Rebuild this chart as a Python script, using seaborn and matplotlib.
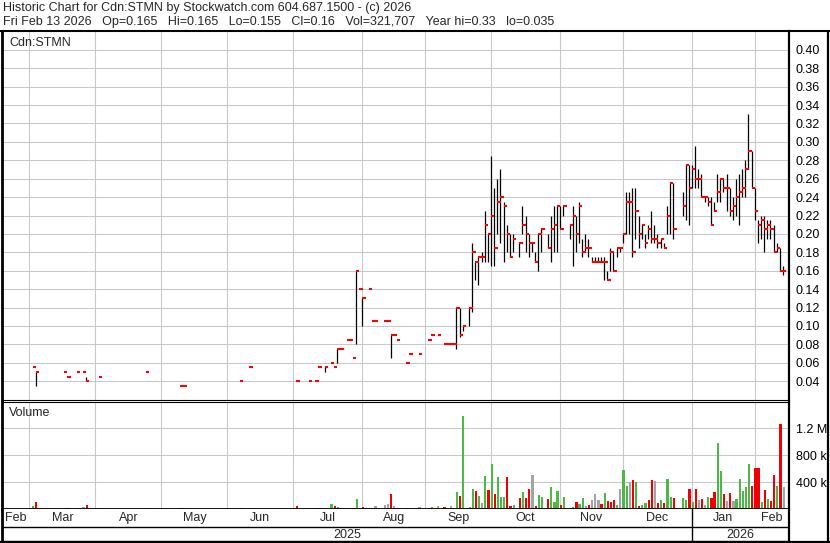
#%% imports

import numpy as np
import pandas as pd
import matplotlib
matplotlib.use("Agg")
import matplotlib.pyplot as plt
from matplotlib.ticker import FormatStrFormatter
import seaborn as sns

#%% data (one slot per trading day)

month_names = ["Feb", "Mar", "Apr", "May", "Jun", "Jul", "Aug",
               "Sep", "Oct", "Nov", "Dec", "Jan", "Feb"]
month_days = [9, 21, 21, 21, 21, 22, 20, 21, 22, 20, 22, 20, 10]
year_names = ["2025", "2026"]
year_first_month = [0, 11]

# high-low bars with a close tick
trade_slot = [10, 11, 20, 21, 24, 26, 27, 31, 46, 57, 58, 76, 79, 94, 98, 100, 101, 103, 105, 106,
              107, 108, 110, 111, 112, 113, 114, 115, 117, 118, 119, 122, 123, 124, 125, 126, 129, 130, 133,
              136, 137, 139, 141, 142, 143, 144, 145, 146, 147, 149, 150, 151, 152, 153, 154, 155,
              156, 157, 158, 159, 160, 161, 162, 163, 165, 166, 167, 168, 169, 170, 171, 172, 174, 175,
              176, 177, 178, 179,
              181, 182, 183, 184, 185, 186, 187, 188, 189, 190, 191, 192, 193, 194, 195, 196, 197, 198,
              199, 200, 201, 202, 203, 204, 205, 206, 207, 208, 209, 210, 211, 212, 213, 214,
              217, 218, 219, 220, 221, 222, 223, 224, 225, 226, 227, 228, 229, 230, 231, 232, 233, 234,
              235, 236, 237, 238, 239, 240, 241, 242, 243, 244, 245, 246, 247, 248, 249]
price_high = [.055, .05, .05, .045, .05, .05, .045, .045, .05, .035, .035, .04, .055, .04, .04, .04, .055, .057, .06, .055,
              .075, .075, .085, .085, .065, .16, .14, .13, .14, .105, .105, .105, .105, .09, .09, .085, .06, .07, .07,
              .085, .09, .09, .08, .08, .08, .08, .12, .12, .10, .12, .19, .17, .175, .18, .225, .20,
              .285, .25, .26, .27, .235, .21, .20, .20, .19, .23, .22, .20, .19, .18, .20, .205, .20, .22,
              .23, .23, .23, .23,
              .21, .23, .22, .235, .195, .20, .195, .175, .175, .175, .175, .175, .16, .185, .18, .185, .185, .20,
              .245, .245, .25, .25, .22, .21, .20, .21, .225, .21, .20, .195, .19, .23, .255, .255,
              .245, .275, .275, .275, .295, .27, .265, .24, .24, .24, .235, .265, .26, .26, .265, .25, .24, .26,
              .265, .27, .28, .33, .29, .25, .215, .22, .22, .215, .215, .21, .19, .185, .165]
price_low = [.055, .035, .05, .045, .05, .05, .04, .045, .05, .035, .035, .04, .055, .04, .04, .04, .055, .05, .06, .055,
             .06, .075, .085, .085, .065, .08, .14, .10, .14, .105, .105, .105, .105, .065, .09, .085, .06, .07, .07,
             .085, .09, .09, .08, .08, .08, .08, .075, .088, .095, .10, .115, .15, .145, .17, .17, .17,
             .165, .165, .20, .19, .17, .18, .175, .18, .175, .20, .18, .175, .18, .17, .16, .18, .185, .17,
             .18, .18, .205, .22,
             .195, .165, .18, .19, .175, .18, .175, .17, .17, .17, .17, .15, .15, .16, .16, .175, .18, .19,
             .20, .20, .175, .195, .185, .195, .185, .195, .19, .19, .185, .185, .185, .20, .20, .195,
             .22, .215, .21, .25, .25, .25, .24, .235, .23, .21, .225, .235, .235, .245, .225, .22, .215, .22,
             .21, .24, .24, .27, .25, .215, .19, .195, .18, .195, .195, .18, .18, .16, .155]
price_close = [.055, .05, .05, .045, .05, .05, .04, .045, .05, .035, .035, .04, .055, .04, .04, .04, .055, .055, .06, .055,
               .075, .075, .085, .085, .065, .16, .14, .13, .14, .105, .105, .105, .105, .09, .09, .085, .06, .07, .07,
               .085, .09, .09, .08, .08, .08, .08, .12, .09, .10, .12, .18, .17, .175, .175, .21, .20,
               .22, .185, .235, .24, .23, .20, .175, .195, .19, .21, .20, .19, .19, .17, .20, .205, .185, .205,
               .21, .23, .205, .23,
               .21, .22, .20, .23, .18, .185, .185, .17, .17, .17, .17, .17, .15, .18, .16, .185, .185, .20,
               .235, .235, .18, .225, .20, .21, .19, .205, .195, .195, .19, .195, .185, .22, .255, .205,
               .23, .275, .25, .27, .26, .26, .24, .24, .235, .21, .225, .245, .26, .25, .25, .225, .23, .24,
               .245, .25, .27, .29, .25, .225, .21, .215, .205, .21, .205, .18, .185, .16, .16]

# volume in thousands, G = up, R = down, N = unchanged
vol_slot = [10, 11, 20, 21, 24, 25, 26, 27, 31, 46, 57, 58, 76, 79, 94, 98, 100, 101, 103, 105,
            106, 107, 108, 110, 111, 112, 113, 114, 115, 117, 118, 119, 122, 123, 124, 125, 126, 129, 130, 133,
            136, 137, 139, 141, 142, 143, 144, 145, 146, 147, 149, 150, 151, 152, 153, 154, 155,
            156, 157, 158, 159, 160, 161, 162, 163, 165, 166, 167, 168, 169, 170, 171, 172, 174, 175,
            176, 177, 178, 179,
            181, 182, 183, 184, 185, 186, 187, 188, 189, 190, 191, 192, 193, 194, 195, 196, 197, 198,
            199, 200, 201, 202, 203, 204, 205, 206, 207, 208, 209, 210, 211, 212, 213, 214,
            217, 218, 219, 220, 221, 222, 223, 224, 225, 226, 227, 228, 229, 230, 231, 232, 233, 234,
            235, 236, 237, 238, 239, 240, 241, 242, 243, 244, 245, 246, 247, 248, 249]
vol_k = [50, 109, 20, 20, 20, 20, 35, 64, 20, 20, 20, 15, 20, 20, 50, 20, 20, 20, 20, 79,
         50, 35, 20, 20, 20, 20, 154, 20, 35, 20, 20, 50, 64, 79, 228, 50, 20, 20, 20, 35,
         10, 35, 50, 35, 15, 50, 15, 258, 198, 1388, 35, 302, 273, 198, 94, 496, 288,
         674, 218, 481, 183, 183, 481, 50, 64, 169, 258, 169, 302, 511, 50, 213, 183, 154, 332,
         109, 273, 64, 183,
         20, 35, 109, 79, 169, 50, 64, 139, 228, 139, 79, 243, 124, 109, 139, 64, 302, 585,
         347, 406, 436, 406, 50, 64, 94, 139, 436, 421, 94, 139, 94, 451, 183, 169,
         169, 139, 302, 109, 302, 139, 154, 64, 183, 169, 258, 986, 570, 228, 124, 243, 124, 154,
         451, 273, 332, 674, 347, 615, 615, 109, 288, 154, 124, 511, 347, 1269, 322]
vol_dir = list("GRNRGNNRGG" "RNGGRNNGNG" "RGNNGRGRRG" "RNNNRNRRGN"
               "NGNRNNNGRGGGRGNGR"
               "GRGGGRRGRGRRNRGGRGGGRG"
               "RGRGGNRNNNRGRRRGNG" "GNRGRGGRRNRGRGGR"
               "GGRGRNRNGRRGGRNRNG" "GGGGRRRGRGRRGRN")

header_1 = "Historic Chart for Cdn:STMN by Stockwatch.com 604.687.1500 - (c) 2026"
header_2 = ("Fri Feb 13 2026   Op=0.165   Hi=0.165   Lo=0.155   Cl=0.16   "
            "Vol=321,707   Year hi=0.33   lo=0.035")
symbol = "Cdn:STMN"

#%% layout

sns.set_theme(style="white")
plt.rcParams["font.family"] = ["Liberation Sans", "DejaVu Sans"]

W, H = 830, 543
fig = plt.figure(figsize=(W / 100, H / 100), dpi=100)
fig.patch.set_facecolor("white")


def px_box(x0, y0, x1, y1):
    # pixel box measured from the top-left corner -> figure fraction
    return [x0 / W, 1 - y1 / H, (x1 - x0) / W, (y1 - y0) / H]


ax_p = fig.add_axes(px_box(2, 31, 789, 400))
ax_v = fig.add_axes(px_box(2, 402, 789, 509))
ax_m = fig.add_axes(px_box(2, 509, 789, 542))

month_start = np.r_[0, np.cumsum(month_days)[:-1]]
n_slots = int(np.sum(month_days))
x_lo, x_hi = 0.25, n_slots + 0.9
grid_col = "#c8c8c8"

#%% price panel

ax_p.set_xlim(x_lo, x_hi)
ax_p.set_ylim(0.0196, 0.4204)
ax_p.set_xticks(month_start[1:])
ax_p.set_yticks(np.round(np.arange(0.04, 0.401, 0.02), 2))
ax_p.grid(True, color=grid_col, lw=0.75)
ax_p.set_axisbelow(True)

ax_p.vlines(trade_slot, price_low, price_high, color="black", lw=0.9)
ax_p.hlines(price_close, trade_slot, np.add(trade_slot, 1.1), color="red", lw=1.5)

ax_p.yaxis.tick_right()
ax_p.yaxis.set_major_formatter(FormatStrFormatter("%.2f"))
ax_p.tick_params(axis="x", length=0, labelbottom=False)
ax_p.tick_params(axis="y", length=0, pad=5, labelsize=9, labelcolor="black")

#%% volume panel

vol_df = pd.DataFrame({"slot": np.add(vol_slot, 0.2), "volume": vol_k, "move": vol_dir})
sns.barplot(data=vol_df, x="slot", y="volume", hue="move",
            palette={"G": "#4cb848", "R": "#f00000", "N": "#a4a4a4"},
            native_scale=True, dodge=False, width=0.7, errorbar=None,
            saturation=1, linewidth=0, legend=False, ax=ax_v)

ax_v.set_xlim(x_lo, x_hi)
ax_v.set_ylim(0, 1591)
ax_v.set_xticks(month_start[1:])
ax_v.set_yticks([400, 800, 1200])
ax_v.set_yticklabels(["400 k", "800 k", "1.2 M"])
ax_v.grid(True, color=grid_col, lw=0.75)
ax_v.set_axisbelow(True)
ax_v.set_xlabel("")
ax_v.set_ylabel("")
ax_v.yaxis.tick_right()
ax_v.tick_params(axis="x", length=0, labelbottom=False)
ax_v.tick_params(axis="y", length=0, pad=5, labelsize=9, labelcolor="black")

#%% month / year strip

ax_m.set_xlim(x_lo, x_hi)
ax_m.set_ylim(0, 33)
ax_m.set_xticks([])
ax_m.set_yticks([])
ax_m.axhline(15.3, color="black", lw=1.0)
ax_m.axvline(month_start[year_first_month[1]], color="black", lw=1.0)

month_end = np.r_[month_start[1:], x_hi]
for name, start, end in zip(month_names, month_start, month_end):
    ax_m.text((max(start, x_lo) + end) / 2, 24.3, name, ha="center", va="center", fontsize=9)

year_edges = [x_lo, month_start[year_first_month[1]], x_hi]
for k, name in enumerate(year_names):
    ax_m.text((year_edges[k] + year_edges[k + 1]) / 2, 7.4, name, ha="center", va="center", fontsize=9)

#%% frame lines

for ax in (ax_p, ax_v, ax_m):
    for side in ("left", "right", "top", "bottom"):
        ax.spines[side].set_color("black")
    ax.spines["left"].set_linewidth(2.0)
    ax.spines["right"].set_linewidth(1.6)
ax_p.spines["top"].set_visible(False)
ax_p.spines["bottom"].set_linewidth(0.8)
ax_v.spines["top"].set_linewidth(0.8)
ax_v.spines["bottom"].set_linewidth(1.3)
ax_m.spines["top"].set_visible(False)
ax_m.spines["bottom"].set_linewidth(1.6)

ax_f = fig.add_axes([0, 0, 1, 1], zorder=5)
ax_f.set_xlim(0, W)
ax_f.set_ylim(H, 0)
ax_f.axis("off")
ax_f.plot([0, W], [30.5, 30.5], color="black", lw=1.5)
ax_f.plot([827.5, 827.5], [30.5, H], color="black", lw=1.6)
ax_f.plot([0, W], [541.8, 541.8], color="black", lw=1.6)

#%% texts

fig.text(3 / W, 1 - 8 / H, header_1, ha="left", va="center", fontsize=9)
fig.text(3 / W, 1 - 21.5 / H, header_2, ha="left", va="center", fontsize=9)
fig.text(9 / W, 1 - 43 / H, symbol, ha="left", va="center", fontsize=9)
fig.text(9 / W, 1 - 413 / H, "Volume", ha="left", va="center", fontsize=9)

fig.savefig("out.png", dpi=100)
